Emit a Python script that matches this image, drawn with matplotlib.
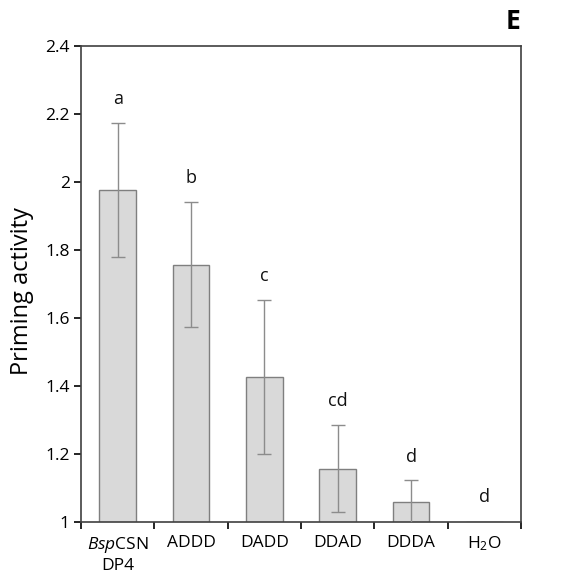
import numpy as np
import matplotlib
matplotlib.use("Agg")
import matplotlib.pyplot as plt

# fonts: Open Sans for everything, incl. mathtext italic / subscripts
plt.rcParams['font.family'] = ['Open Sans', 'DejaVu Sans']
plt.rcParams['mathtext.fontset'] = 'custom'
plt.rcParams['mathtext.rm'] = 'Open Sans'
plt.rcParams['mathtext.it'] = 'Open Sans:italic'

# ---- data ----
categories = ['$\\mathit{Bsp}$CSN\nDP4', 'ADDD', 'DADD', 'DDAD', 'DDDA', 'H$_\\mathregular{2}$O']
means = [1.976, 1.757, 1.427, 1.157, 1.058, 1.0]
errors = [0.198, 0.184, 0.227, 0.127, 0.067, 0.0]
letters = ['a', 'b', 'c', 'cd', 'd', 'd']
letter_y = [2.244, 2.012, 1.724, 1.357, 1.192, 1.074]
y_ticks = [1, 1.2, 1.4, 1.6, 1.8, 2, 2.2, 2.4]

fig = plt.figure(figsize=(5.66, 5.77), dpi=100)
ax = fig.add_axes([0.1431, 0.0953, 0.7774, 0.825])

x = np.arange(len(categories))
ax.bar(x, means, width=0.5, bottom=0, color='#d9d9d9', edgecolor='#7f7f7f',
       linewidth=1.0, zorder=2)
ax.errorbar(x[:-1], means[:-1], yerr=errors[:-1], fmt='none', ecolor='#8c8c8c',
            elinewidth=1.0, capsize=5, capthick=1.0, zorder=3)

for xi, lab, ly in zip(x, letters, letter_y):
    ax.text(xi, ly, lab, ha='center', va='center', fontsize=13, color='#111111')

ax.set_xlim(-0.5, len(categories) - 0.5)
ax.set_ylim(1, 2.4)
ax.set_yticks(y_ticks)
ax.set_yticklabels([f'{t:g}' for t in y_ticks], fontsize=12.5)
ax.set_xticks(x)
ax.set_xticklabels(categories, fontsize=12.5, linespacing=1.3)
ax.set_xticks(np.arange(-0.5, len(categories)), minor=True)
ax.tick_params(axis='x', which='major', length=0, pad=9)
ax.tick_params(axis='x', which='minor', length=5, width=1.2, direction='out')
ax.tick_params(axis='y', length=5, width=1.2, direction='out', pad=3)
ax.set_ylabel('Priming activity', fontsize=17)
ax.yaxis.set_label_coords(-0.107, 0.485)

for s in ax.spines.values():
    s.set_color('#404040')
    s.set_linewidth(1.2)

fig.text(0.92, 0.962, 'E', fontsize=19, fontweight='bold', ha='right', va='center')

fig.savefig('out.png', dpi=100)
